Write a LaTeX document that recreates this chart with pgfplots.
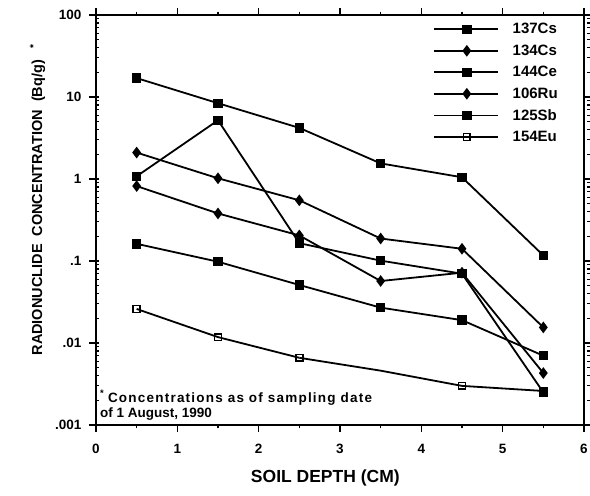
\documentclass[border=0pt]{standalone}
\usepackage{pgfplots}
\pgfplotsset{compat=1.18}
\usepackage{fontspec}
\setmainfont{Liberation Sans}

% Radionuclide concentration (Bq/g) against soil depth (cm)
\pgfplotstableread{
x    cs137  cs134  ce144  ru106  sb125  eu154
0.5  17.0   2.10   1.08   0.82   0.162  0.026
1.5  8.4    1.02   5.2    0.38   0.098  0.0118
2.5  4.2    0.55   0.165  0.205  0.051  0.0066
3.5  1.55   0.188  0.101  0.057  0.027  nan
4.5  1.05   0.141  0.070  0.072  0.019  0.0030
5.5  0.117  0.0155 0.0025 0.0043 0.0070 0.0026
}\soil

\begin{document}
\begin{tikzpicture}[x=1pt,y=1pt]
\useasboundingbox (0,0) rectangle (590,496);
\begin{axis}[
  at={(96pt,71pt)}, anchor=south west,
  scale only axis, width=488pt, height=410pt,
  xmin=0, xmax=6, ymin=0.001, ymax=100, ymode=log,
  xtick={0,1,2,3,4,5,6}, minor x tick num=1,
  ytick={0.001,0.01,0.1,1,10,100},
  yticklabels={.001,.01,.1,1,10,100},
  axis line style={line width=2pt},
  every tick/.style={black, line width=1.2pt},
  major tick length=7pt, minor tick length=3.5pt,
  tick align=outside,
  minor y tick style={xshift=3.5pt},
  /pgf/number format/assume math mode=true,
  ticklabel style={font=\bfseries\fontsize{13.5}{14}\selectfont},
  xticklabel style={yshift=-9pt},
  yticklabel style={xshift=-4pt},
  xlabel={SOIL DEPTH (CM)},
  xlabel style={at={(axis description cs:0.47,-0.13)}, anchor=center,
    font=\bfseries\fontsize{17.5}{18}\selectfont},
  ylabel={RADIONUCLIDE\ \ CONCENTRATION\ \ (Bq/g)\ \ \ \textsuperscript{*}},
  ylabel style={at={(axis description cs:-0.12,0.55)}, anchor=center,
    font=\bfseries\fontsize{14.5}{15}\selectfont},
  legend style={at={(axis description cs:0.69,0.985)}, anchor=north west,
    draw=none, fill=none, font=\bfseries\fontsize{15}{16}\selectfont,
    row sep=5.5pt, inner sep=0pt,
    /tikz/every odd column/.append style={column sep=12pt}},
  legend cell align=left,
  legend image code/.code={
    \draw[#1, mark repeat=2, mark phase=2]
      plot coordinates {(0pt,0pt) (33pt,0pt) (64pt,0pt)};
  },
  every axis plot/.append style={black, line width=1.8pt, mark size=3.8pt,
    mark options={solid}},
  unbounded coords=jump,
]
% series
\addplot[mark=square*, forget plot] table[x=x,y=cs137] {\soil};
\addplot[mark=diamond*, mark size=4.4pt, forget plot] table[x=x,y=cs134] {\soil};
\addplot[mark=square*, forget plot] table[x=x,y=ce144] {\soil};
\addplot[mark=diamond*, mark size=4.4pt, forget plot] table[x=x,y=ru106] {\soil};
\addplot[mark=square*, forget plot] table[x=x,y=sb125] {\soil};
\addplot[mark=square, mark options={fill=white, line width=1.7pt}, mark size=3.4pt, forget plot]
  table[x=x,y=eu154] {\soil};
% the 154Eu line runs through 3.5 cm without a sample point
\addplot[black, line width=1.8pt, no marks, forget plot]
  coordinates {(2.5,0.0066) (3.5,0.0046) (4.5,0.0030)};

% legend keys
\addlegendimage{black, line width=1.8pt, mark=square*, mark size=3.8pt}
\addlegendentry{137Cs}
\addlegendimage{black, line width=1.8pt, mark=diamond*, mark size=4.4pt}
\addlegendentry{134Cs}
\addlegendimage{black, line width=1.8pt, mark=square*, mark size=3.8pt}
\addlegendentry{144Ce}
\addlegendimage{black, line width=1.8pt, mark=diamond*, mark size=4.4pt}
\addlegendentry{106Ru}
\addlegendimage{black, line width=1.8pt, mark=square*, mark size=3.8pt}
\addlegendentry{125Sb}
\addlegendimage{black, line width=1.8pt, mark=square, mark size=3.4pt, mark options={fill=white, line width=1.7pt}}
\addlegendentry{154Eu}

\node[anchor=north west, align=left, inner sep=0pt,
  font=\bfseries\fontsize{13.5}{15.5}\selectfont]
  at (axis description cs:0.008,0.085)
  {\textsuperscript{*} {\addfontfeature{LetterSpace=9}Concentrations as of sampling date}\\of 1 August, 1990};
\end{axis}
\end{tikzpicture}
\end{document}
